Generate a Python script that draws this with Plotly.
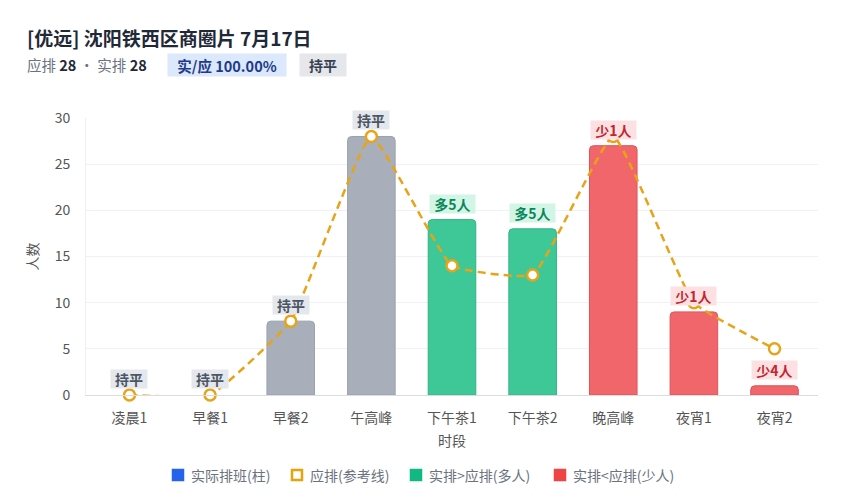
import plotly.graph_objects as go

# 时段 categories and counts
slots = ["凌晨1", "早餐1", "早餐2", "午高峰", "下午茶1", "下午茶2", "晚高峰", "夜宵1", "夜宵2"]
actual = [0, 0, 8, 28, 19, 18, 27, 9, 1]      # 实际排班
planned = [0, 0, 8, 28, 14, 13, 28, 10, 5]    # 应排
diff_labels = ["持平", "持平", "持平", "持平", "多5人", "多5人", "少1人", "少1人", "少4人"]

FONT = "Noto Sans CJK SC"
GRAY, GREEN, RED = "#A9AFBA", "#3FC897", "#F0666B"
GRAY_LN, GREEN_LN, RED_LN = "#9AA1AD", "#2FB583", "#DE545A"
ORANGE = "#E8A317"

# page is shifted 8px by the default body margin; plot box wanted at x 86..818, y 118..395
L, R, T, B = 78, 39, 110, 113
PW, PH = 849 - L - R, 500 - T - B


def px(x):
    return (x - 8 - L) / PW


def py(y):
    return (500 - B + 8 - y) / PH


def status(a, p):
    if a > p:
        return "more"
    if a < p:
        return "less"
    return "even"


styles = {
    "even": dict(fill=GRAY, line=GRAY_LN, bg="#E4E7EC", fg="#4B5563"),
    "more": dict(fill=GREEN, line=GREEN_LN, bg="#D3F5E6", fg="#08875A"),
    "less": dict(fill=RED, line=RED_LN, bg="#FDE1E2", fg="#C42530"),
}
st = [status(a, p) for a, p in zip(actual, planned)]

fig = go.Figure()

fig.add_trace(go.Bar(
    x=slots, y=actual, width=0.59,
    marker=dict(color=[styles[s]["fill"] for s in st],
                line=dict(color=[styles[s]["line"] for s in st],
                          width=[1 if a > 0 else 0 for a in actual]),
                cornerradius=4),
    showlegend=False, hoverinfo="x+y",
))

fig.add_trace(go.Scatter(
    x=slots, y=planned, mode="lines+markers",
    line=dict(color=ORANGE, width=2.5, dash="8px,5px", shape="spline", smoothing=0.35),
    marker=dict(size=11, color="white", line=dict(color=ORANGE, width=2.5)),
    showlegend=False, cliponaxis=False,
))

# difference badges above each bar
for x, a, lab, s in zip(slots, actual, diff_labels, st):
    fig.add_annotation(
        x=x, y=a, text=f"<b>{lab}</b>", showarrow=False, yanchor="bottom", yshift=6,
        font=dict(family=FONT, size=14, color=styles[s]["fg"]),
        bgcolor=styles[s]["bg"], borderpad=0,
        width=36 if len(lab) == 2 else 45, height=18,
    )

# title block
fig.add_annotation(
    xref="paper", yref="paper", x=px(25), y=py(37), xanchor="left", yanchor="middle",
    text="<b>[优远] 沈阳铁西区商圈片 7月17日</b>", showarrow=False,
    font=dict(family=FONT, size=19, color="#1F2937"),
)
fig.add_annotation(
    xref="paper", yref="paper", x=px(25), y=py(65), xanchor="left", yanchor="middle",
    text="应排 <b style='color:#1F2937'>28</b> · 实排 <b style='color:#1F2937'>28</b>",
    showarrow=False, font=dict(family=FONT, size=14.5, color="#6B7280"),
)
fig.add_annotation(
    xref="paper", yref="paper", x=px(167), y=py(65), xanchor="left", yanchor="middle",
    text="<b>实/应 100.00%</b>", showarrow=False,
    font=dict(family=FONT, size=14.5, color="#1E3A8A"),
    bgcolor="#DCE8FB", borderpad=0, width=118, height=22,
)
fig.add_annotation(
    xref="paper", yref="paper", x=px(299), y=py(65), xanchor="left", yanchor="middle",
    text="<b>持平</b>", showarrow=False,
    font=dict(family=FONT, size=14, color="#374151"),
    bgcolor="#E5E7EB", borderpad=0, width=46, height=22,
)

# legend drawn by hand to match the spacing of the original
legend_items = [
    ("实际排班(柱)", "#2563EB", "#2563EB", 172),
    ("应排(参考线)", "white", "#E5A50A", 291),
    ("实排>应排(多人)", "#10B981", "#10B981", 410),
    ("实排<应排(少人)", "#EF4444", "#EF4444", 554),
]
ly = 475
for name, fill, edge, sx in legend_items:
    fig.add_shape(
        type="rect", xref="paper", yref="paper",
        x0=px(sx + 1), x1=px(sx + 11), y0=py(ly + 5), y1=py(ly - 5),
        fillcolor=fill, line=dict(color=edge, width=2.5), layer="above",
    )
    fig.add_annotation(
        xref="paper", yref="paper", x=px(sx + 17), y=py(ly), xanchor="left", yanchor="middle",
        text=name, showarrow=False, font=dict(family=FONT, size=14, color="#6B7280"),
    )

fig.update_layout(
    width=849, height=500,
    margin=dict(l=L, r=R, t=T, b=B),
    paper_bgcolor="white", plot_bgcolor="white",
    font=dict(family=FONT, size=14, color="#555"),
    barmode="overlay", showlegend=False,
    xaxis=dict(
        title=dict(text="时段", font=dict(size=14, color="#555"), standoff=10),
        showgrid=False, showline=True, linecolor="#D9DCE1", linewidth=1,
        ticks="", ticklabelstandoff=10, tickfont=dict(size=14, color="#555"),
        automargin=False,
    ),
    yaxis=dict(
        title=dict(text="人数", font=dict(size=14, color="#555"), standoff=12),
        range=[0, 30], dtick=5, showgrid=True, gridcolor="#F0F1F4",
        zeroline=False, showline=True, linecolor="#EEF0F3",
        ticks="", ticklabelstandoff=12, tickfont=dict(size=14, color="#555"),
        automargin=False,
    ),
)

fig.write_html("out.html")
